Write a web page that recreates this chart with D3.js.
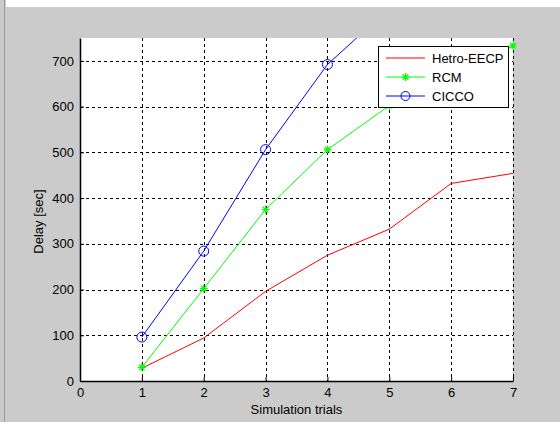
<!DOCTYPE html>
<html>
<head>
<meta charset="utf-8">
<script src="https://cdn.jsdelivr.net/npm/d3@7"></script>
<style>
  body { margin: 0; background: #cbcbcb; }
  svg { display: block; font-family: "Liberation Sans", Arial, sans-serif; }
</style>
</head>
<body>
<div id="chart"></div>
<script>
const trials = [1, 2, 3, 4, 5, 6, 7];
const hetroEECP = [28, 94, 196, 275, 332, 432, 454];
const rcm = [30, 202, 375, 506, 602, 665, 733];
const cicco = [96, 284, 506, 692, 815, 940, 1060];
const xTicks = [0, 1, 2, 3, 4, 5, 6, 7];
const yTicks = [0, 100, 200, 300, 400, 500, 600, 700];

const width = 560;
const height = 422;
const margin = { top: 38, right: 47, bottom: 41, left: 80 };

const svg = d3.select('#chart')
  .append('svg')
  .attr('width', width)
  .attr('height', height);

// figure background bits
svg.append('rect').attr('x', 0).attr('y', 0).attr('width', width).attr('height', height).attr('fill', '#cbcbcb');
svg.append('rect').attr('x', 6).attr('y', 0).attr('width', width - 6).attr('height', 7).attr('fill', '#fff');
svg.append('line').attr('x1', 4.5).attr('x2', 4.5).attr('y1', 0).attr('y2', height).attr('stroke', '#9a9a9a');

const x = d3.scaleLinear().domain([0, 7]).range([margin.left, width - margin.right]);
const y = d3.scaleLinear().domain([0, 750]).range([height - margin.bottom, margin.top]);

svg.append('rect')
  .attr('x', x(0)).attr('y', y(750))
  .attr('width', x(7) - x(0)).attr('height', y(0) - y(750))
  .attr('fill', '#fff');

svg.append('clipPath').attr('id', 'plot-clip')
  .append('rect')
  .attr('x', x(0)).attr('y', y(750))
  .attr('width', x(7) - x(0) + 8).attr('height', y(0) - y(750));

// grid
const grid = svg.append('g').attr('stroke', '#000').attr('stroke-dasharray', '3,3').attr('stroke-width', 1);
xTicks.slice(1).forEach(t => {
  grid.append('line')
    .attr('x1', Math.round(x(t)) + 0.5).attr('x2', Math.round(x(t)) + 0.5)
    .attr('y1', y(750)).attr('y2', y(0));
});
yTicks.slice(1).forEach(t => {
  grid.append('line')
    .attr('x1', x(0)).attr('x2', x(7))
    .attr('y1', Math.round(y(t)) + 0.5).attr('y2', Math.round(y(t)) + 0.5);
});

// axes
const xAxis = svg.append('g')
  .attr('transform', `translate(0,${y(0)})`)
  .call(d3.axisBottom(x).tickValues(xTicks).tickFormat(d3.format('d')).tickSizeInner(-4).tickSizeOuter(0).tickPadding(7));
const yAxis = svg.append('g')
  .attr('transform', `translate(${x(0)},0)`)
  .call(d3.axisLeft(y).tickValues(yTicks).tickFormat(d3.format('d')).tickSizeInner(-4).tickSizeOuter(0).tickPadding(6));
[xAxis, yAxis].forEach(a => {
  a.select('.domain').attr('stroke', '#000').attr('stroke-width', 1.5);
  a.selectAll('.tick line').attr('stroke', '#000');
  a.selectAll('text').attr('font-size', 13).attr('fill', '#000').attr('font-family', '"Liberation Sans", Arial, sans-serif');
});

// series
const line = d3.line().x((d, i) => x(trials[i])).y(d => y(d));
const plot = svg.append('g').attr('clip-path', 'url(#plot-clip)');

plot.append('path').datum(hetroEECP).attr('d', line)
  .attr('fill', 'none').attr('stroke', '#ff0000').attr('stroke-width', 1);
plot.append('path').datum(rcm).attr('d', line)
  .attr('fill', 'none').attr('stroke', '#00ff00').attr('stroke-width', 1);
plot.append('path').datum(cicco).attr('d', line)
  .attr('fill', 'none').attr('stroke', '#0000ff').attr('stroke-width', 1);

function star(g, cx, cy, color) {
  const r = 4;
  g.append('path')
    .attr('d', `M${cx - r},${cy}H${cx + r}M${cx},${cy - r}V${cy + r}` +
      `M${cx - r * 0.7},${cy - r * 0.7}L${cx + r * 0.7},${cy + r * 0.7}` +
      `M${cx - r * 0.7},${cy + r * 0.7}L${cx + r * 0.7},${cy - r * 0.7}`)
    .attr('stroke', color).attr('stroke-width', 1.2).attr('fill', 'none');
}

const markers = svg.append('g').attr('clip-path', 'url(#plot-clip)');
rcm.forEach((v, i) => star(markers, x(trials[i]), y(v), '#00ff00'));
markers.selectAll('circle').data(cicco).enter().append('circle')
  .attr('cx', (d, i) => x(trials[i])).attr('cy', d => y(d)).attr('r', 5)
  .attr('fill', 'none').attr('stroke', '#0000ff').attr('stroke-width', 1);

// axis labels
svg.append('text')
  .attr('x', (x(0) + x(7)) / 2).attr('y', 414)
  .attr('text-anchor', 'middle').attr('font-size', 13)
  .text('Simulation trials');
svg.append('text')
  .attr('transform', `translate(43,${(y(0) + y(750)) / 2 + 12}) rotate(-90)`)
  .attr('text-anchor', 'middle').attr('font-size', 13)
  .text('Delay [sec]');

// legend
const names = ['Hetro-EECP', 'RCM', 'CICCO'];
const colors = ['#ff0000', '#00ff00', '#0000ff'];
const legend = svg.append('g').attr('transform', 'translate(378,46)');
legend.append('rect').attr('x', 0.5).attr('y', 0.5).attr('width', 130).attr('height', 61)
  .attr('fill', '#fff').attr('stroke', '#000').attr('stroke-width', 1);
names.forEach((n, i) => {
  const ly = 12 + i * 19;
  legend.append('line').attr('x1', 8).attr('x2', 47).attr('y1', ly).attr('y2', ly)
    .attr('stroke', colors[i]).attr('stroke-width', 1);
  if (i === 1) star(legend, 27.5, ly, colors[i]);
  if (i === 2) legend.append('circle').attr('cx', 27.5).attr('cy', ly).attr('r', 4.5)
    .attr('fill', 'none').attr('stroke', colors[i]);
  legend.append('text').attr('x', 54).attr('y', ly + 4.5).attr('font-size', 13).attr('fill', '#000').text(n);
});
</script>
</body>
</html>
